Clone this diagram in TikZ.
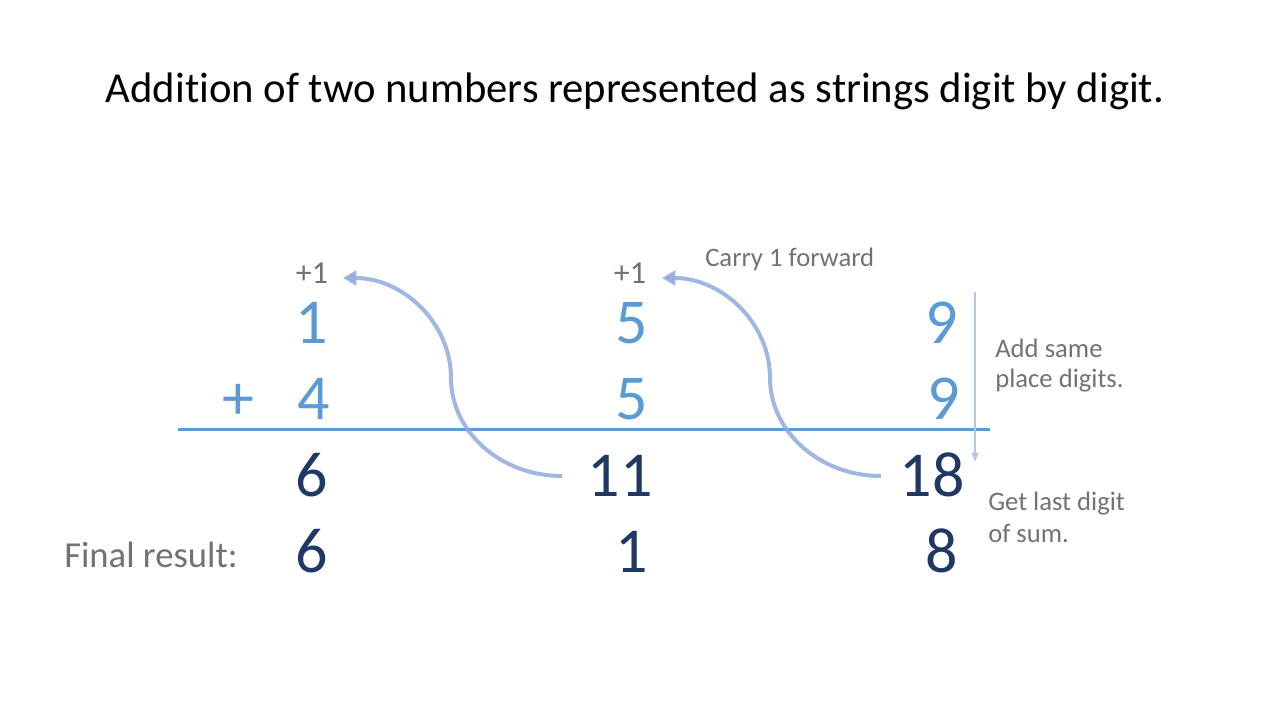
\documentclass[tikz,border=0pt]{standalone}
\usepackage{fontspec}
\setmainfont{Carlito}[Ligatures=CommonOff]
\usetikzlibrary{arrows.meta}
\definecolor{lblue}{HTML}{5B9BD5}
\definecolor{dblue}{HTML}{1F3864}
\definecolor{tgray}{HTML}{767171}
\definecolor{carc}{HTML}{8FAADC}
\definecolor{vline}{HTML}{B4C7E7}
\tikzset{
  top/.style={font=\fontsize{48}{56}\selectfont, text=lblue, anchor=base, inner sep=0pt},
  bot/.style={font=\fontsize{48}{56}\selectfont, text=dblue, anchor=base, inner sep=0pt},
  small/.style={font=\fontsize{20}{24}\selectfont, text=tgray, anchor=base west, inner sep=0pt},
  carry/.style={carc, line width=3pt, opacity=0.85, -{Triangle[length=10pt,width=11pt]}},
}
\begin{document}
\begin{tikzpicture}[x=0.75pt,y=-0.75pt]
\useasboundingbox (0,0) rectangle (1280,720);
\node[anchor=base, inner sep=0pt, font=\fontsize{32}{38}\selectfont] (title) at (635,103) {Addition of two numbers represented as strings digit by digit.};
% digits
\node[top] (a1) at (312,343) {1};
\node[top] (a2) at (632,343) {5};
\node[top] (a3) at (942,343) {9};
\node[top] (plus) at (238,419) {+};
\node[top] (b1) at (314,419) {4};
\node[top] (b2) at (632,419) {5};
\node[top] (b3) at (944,419) {9};
\node[bot] (s1) at (312,496) {6};
\node[bot] (s2) at (620,496) {11};
\node[bot] (s3) at (932,496) {18};
\node[bot] (r1) at (312,572) {6};
\node[bot] (r2) at (632,572) {1};
\node[bot] (r3) at (942,572) {8};
\node[anchor=base west, inner sep=0pt, text=tgray, font=\fontsize{27.5}{33}\selectfont] (final) at (64,567) {Final result:};
% carries
\node[small, anchor=base, font=\fontsize{24}{28}\selectfont] (p1) at (312,283) {+1};
\node[small, anchor=base, font=\fontsize{24}{28}\selectfont] (p2) at (630,283) {+1};
\node[small] (carrytxt) at (705,266) {Carry 1 forward};
\node[small] (addtxt) at (995,357) {Add same};
\node[small] (addtxt2) at (995,387) {place digits.};
\node[small] (gettxt) at (988,510) {Get last digit};
\node[small] (gettxt2) at (988,542) {of sum.};
% rule
\coordinate (rl) at (178,429);
\coordinate (rr) at (990,429);
\draw[lblue, line width=2.25pt] (rl) -- (rr);
% vertical arrow
\coordinate (vt) at (975,292);
\coordinate (vb) at (975,462);
\draw[vline, line width=1.5pt, -{Triangle[length=7pt,width=5pt]}] (vt) -- (vb);
% carry arrows
\coordinate (c1s) at (562,476);
\coordinate (c1e) at (343,278);
\coordinate (c2s) at (881,476);
\coordinate (c2e) at (662,278);
\draw[carry] (c1s) .. controls +(-61,0) and +(0,54) .. ++(-111,-98) .. controls +(0,-55) and +(60,0) .. (c1e);
\draw[carry] (c2s) .. controls +(-61,0) and +(0,54) .. ++(-111,-98) .. controls +(0,-55) and +(60,0) .. (c2e);
\end{tikzpicture}
\end{document}
